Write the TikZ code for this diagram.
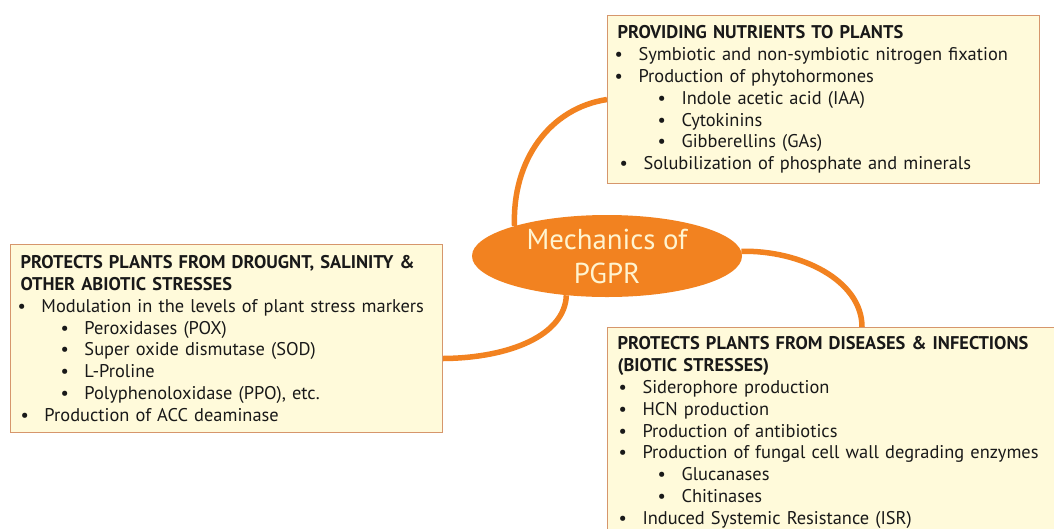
\documentclass[tikz,border=0pt]{standalone}
\usepackage{fontspec}
\setmainfont{PT Sans}
\usetikzlibrary{shapes.geometric,calc}
\definecolor{orng}{RGB}{242,130,32}
\definecolor{boxfill}{RGB}{255,250,218}
\definecolor{boxedge}{RGB}{214,150,108}
\definecolor{txt}{RGB}{25,25,25}
\definecolor{cream}{RGB}{255,244,208}
\pgfdeclarelayer{bg}
\pgfsetlayers{bg,main}
\newcommand\ba[2][0pt]{\hspace*{#1}\makebox[24pt][l]{\textbullet}#2}
\newcommand\bb[1]{\hspace*{43pt}\makebox[24pt][l]{\textbullet}#1}
\tikzset{
  infobox/.style={draw=boxedge, fill=boxfill, line width=1pt, anchor=north west,
    align=left, inner xsep=7pt, inner ysep=5pt, text=txt,
    font=\fontsize{18.4}{21.8}\selectfont},
  hub/.style={ellipse, fill=orng, minimum width=270pt, minimum height=82pt,
    inner sep=0pt, text=cream, align=center, font=\fontsize{28.8}{34}\selectfont},
  link/.style={draw=orng, line width=5.5pt}
}
\begin{document}
\begin{tikzpicture}[x=1pt,y=-1pt]
\useasboundingbox (0,0) rectangle (1054,528);

\node[infobox, text width=418pt, minimum height=168pt] (top) at (607,15) {%
\hspace*{3pt}\textbf{PROVIDING NUTRIENTS TO PLANTS}\\
\ba{Symbiotic and non-symbiotic nitrogen fixation}\\
\ba{Production of phytohormones}\\
\bb{Indole acetic acid (IAA)}\\
\bb{Cytokinins}\\
\bb{Gibberellins (GAs)}\\
\ba[5pt]{Solubilization of phosphate and minerals}};

\node[infobox, text width=418pt, minimum height=188pt] (left) at (10,244) {%
\hspace*{3pt}\textbf{PROTECTS PLANTS FROM DROUGNT, SALINITY \&}\\
\hspace*{3pt}\textbf{OTHER ABIOTIC STRESSES}\\
\ba{Modulation in the levels of plant stress markers}\\
\bb{Peroxidases (POX)}\\
\bb{Super oxide dismutase (SOD)}\\
\bb{L-Proline}\\
\bb{Polyphenoloxidase (PPO), etc.}\\
\ba[3pt]{Production of ACC deaminase}};

\node[infobox, text width=446pt, minimum height=210pt] (bot) at (607,327) {%
\hspace*{3pt}\textbf{PROTECTS PLANTS FROM DISEASES \& INFECTIONS}\\
\hspace*{3pt}\textbf{(BIOTIC STRESSES)}\\
\ba[4pt]{Siderophore production}\\
\ba[4pt]{HCN production}\\
\ba[4pt]{Production of antibiotics}\\
\ba[4pt]{Production of fungal cell wall degrading enzymes}\\
\bb{Glucanases}\\
\bb{Chitinases}\\
\ba[4pt]{Induced Systemic Resistance (ISR)}};

\node[hub] (hub) at (607,256) {Mechanics of\\PGPR};

\coordinate (botin) at ($(bot.north west)+(255,0)$);
\coordinate (leftin) at ($(left.east)+(0,20)$);

\begin{pgfonlayer}{bg}
\fill[white] (0,0) rectangle (1054,528);
\draw[link] (hub.162) .. controls (512,160) and (550,108) .. (top.west);
\draw[link] (hub.2) .. controls (800,250) and (862,280) .. (botin);
\draw[link] (hub.-136) .. controls (565,335) and (510,358) .. (leftin);
\end{pgfonlayer}
\end{tikzpicture}
\end{document}
